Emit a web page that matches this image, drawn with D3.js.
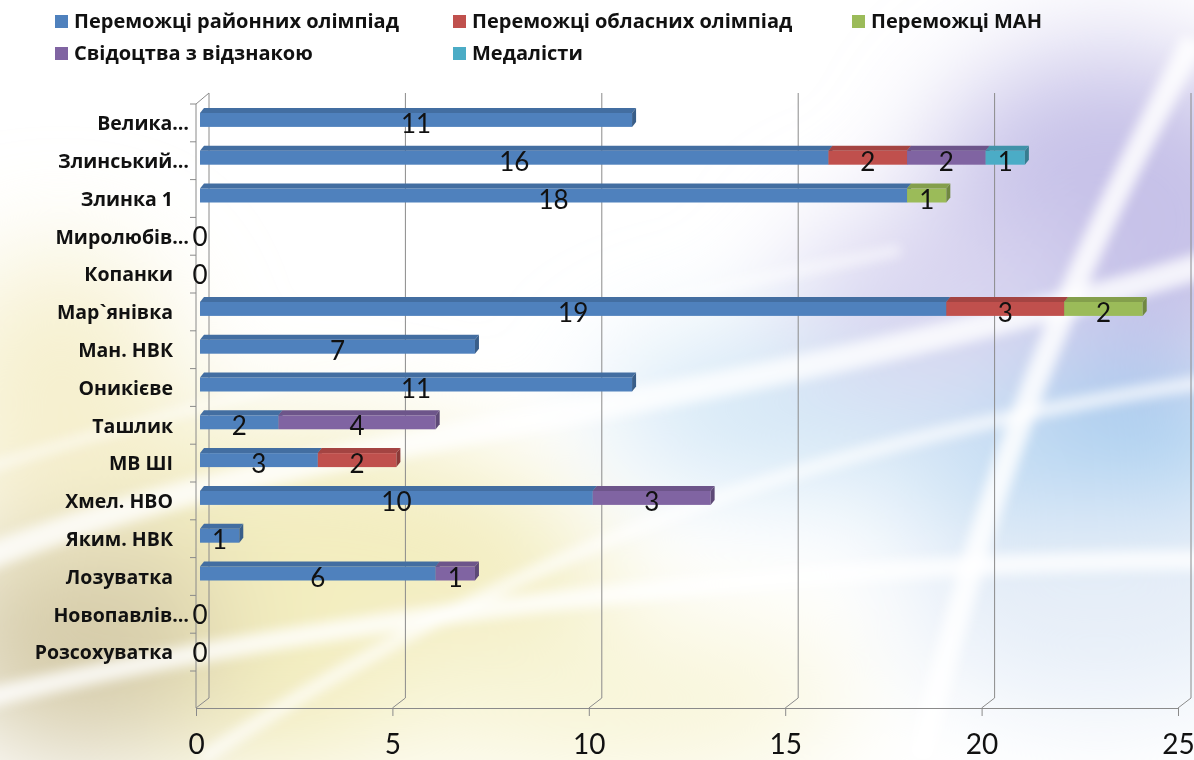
<!DOCTYPE html>
<html>
<head>
<meta charset="utf-8">
<script src="https://cdn.jsdelivr.net/npm/d3@7"></script>
<style>
  html, body { margin: 0; padding: 0; background: #fff; }
  svg { display: block; }
</style>
</head>
<body>
<script>
// дані з діаграми
var categories = ["Велика…", "Злинський…", "Злинка 1", "Миролюбів…", "Копанки", "Мар`янівка",
                  "Ман. НВК", "Оникієве", "Ташлик", "МВ ШІ", "Хмел. НВО", "Яким. НВК",
                  "Лозуватка", "Новопавлів…", "Розсохуватка"];
var seriesNames = ["Переможці районних олімпіад", "Переможці обласних олімпіад", "Переможці МАН",
                   "Свідоцтва з відзнакою", "Медалісти"];
var district = [11, 16, 18, 0, 0, 19, 7, 11, 2, 3, 10, 1, 6, 0, 0];
var regional = [null, 2, null, null, null, 3, null, null, null, 2, null, null, null, null, null];
var man      = [null, null, 1, null, null, 2, null, null, null, null, null, null, null, null, null];
var honours  = [null, 2, null, null, null, null, null, null, 4, null, 3, null, 1, null, null];
var medals   = [null, 1, null, null, null, null, null, null, null, null, null, null, null, null, null];
var xTicks = [0, 5, 10, 15, 20, 25];

var colors = ["#4F81BD", "#C0504D", "#9BBB59", "#8064A2", "#4BACC6"];

var W = 1194, H = 760;
var svg = d3.select("body").append("svg").attr("width", W).attr("height", H);
var defs = svg.append("defs");

// ---- фон (розмиті плями та білі смуги) ----
defs.append("filter").attr("id", "blurBig").attr("x", "-50%").attr("y", "-50%")
    .attr("width", "200%").attr("height", "200%")
    .append("feGaussianBlur").attr("stdDeviation", 55);
defs.append("filter").attr("id", "blurSmall").attr("x", "-20%").attr("y", "-20%")
    .attr("width", "140%").attr("height", "140%")
    .append("feGaussianBlur").attr("stdDeviation", 6);

var bg = svg.append("g");
bg.append("rect").attr("width", W).attr("height", H).attr("fill", "#ffffff");
var blobs = bg.append("g").attr("filter", "url(#blurBig)");
[
  {cx: 1110, cy: 220, rx: 190, ry: 170, c: "#c6c1e8"},
  {cx: 1060, cy: 440, rx: 220, ry: 80, c: "#a6cff0"},
  {cx: 820, cy: 410, rx: 220, ry: 80, c: "#d3e7f6"},
  {cx: 940, cy: 300, rx: 150, ry: 90, c: "#d9d5f0"},
  {cx: 280, cy: 600, rx: 330, ry: 170, c: "#f3edbf"},
  {cx: 80, cy: 640, rx: 140, ry: 120, c: "#d6ccaa"},
  {cx: 60, cy: 400, rx: 120, ry: 150, c: "#f6f0cf"},
  {cx: 600, cy: 700, rx: 250, ry: 80, c: "#f8f5d8"},
  {cx: 1100, cy: 600, rx: 200, ry: 110, c: "#e6eef8"}
].forEach(function(b){
  blobs.append("ellipse").attr("cx", b.cx).attr("cy", b.cy).attr("rx", b.rx).attr("ry", b.ry).attr("fill", b.c);
});
var swoosh = bg.append("g").attr("filter", "url(#blurSmall)").attr("fill", "none").attr("stroke", "#ffffff");
swoosh.append("path").attr("d", "M-20,560 C300,430 700,420 1220,260").attr("stroke-width", 26).attr("opacity", 0.8);
swoosh.append("path").attr("d", "M-20,700 C300,620 800,560 1220,560").attr("stroke-width", 20).attr("opacity", 0.8);
swoosh.append("path").attr("d", "M200,760 C500,560 800,440 1220,380").attr("stroke-width", 14).attr("opacity", 0.7);
swoosh.append("path").attr("d", "M1194,40 C1100,220 1000,420 920,760").attr("stroke-width", 24).attr("opacity", 0.85);
swoosh.append("path").attr("d", "M-20,470 C200,400 500,330 900,250").attr("stroke-width", 10).attr("opacity", 0.6);

// ---- шкали ----
var xFront = d3.scaleLinear().domain([0, 25]).range([196, 1178]);
var xBack = d3.scaleLinear().domain([0, 25]).range([209, 1191]);
var xBar = d3.scaleLinear().domain([0, 25]).range([200, 1182]);
var y = d3.scaleBand().domain(categories).range([101, 668]);

var floorY = 708, backFloorY = 698, backTop = 93;
var gridColor = "#8a8a8a";

// ---- сітка на задній стінці ----
var grid = svg.append("g").attr("fill", "none").attr("stroke", gridColor).attr("stroke-width", 1);
grid.selectAll("path.g").data(xTicks).enter().append("path")
    .attr("d", function(d){
      return "M" + xBack(d) + "," + backTop + "V" + backFloorY + "L" + xFront(d) + "," + floorY;
    });
// передня вертикальна вісь
grid.append("path").attr("d", "M" + xBack(0) + "," + backTop + "L196,104V" + floorY);
grid.selectAll("line.t").data(d3.range(categories.length + 1)).enter().append("line")
    .attr("x1", 190).attr("x2", 196)
    .attr("y1", function(i){ return 104 + i * y.step(); })
    .attr("y2", function(i){ return 104 + i * y.step(); });

// ---- вісь X ----
var xAxis = svg.append("g").attr("transform", "translate(0," + floorY + ")")
    .call(d3.axisBottom(xFront).tickValues(xTicks).tickSizeInner(8).tickSizeOuter(0).tickPadding(18));
xAxis.select(".domain").attr("stroke", gridColor);
xAxis.selectAll(".tick line").attr("stroke", gridColor);
xAxis.selectAll(".tick text").attr("font-family", "Lato, 'Open Sans', sans-serif")
    .attr("font-size", 28).attr("fill", "#111");

// ---- вісь категорій ----
var yAxis = svg.append("g").attr("transform", "translate(173,4)")
    .call(d3.axisLeft(y).tickSize(0).tickPadding(0));
yAxis.select(".domain").remove();
yAxis.selectAll(".tick text")
    .attr("font-family", "'Open Sans', sans-serif").attr("font-weight", 700)
    .attr("font-size", 19.5).attr("fill", "#111")
    .attr("x", function(d){ return d.slice(-1) === "…" ? 16 : 0; });

// ---- стовпчики ----
var rows = categories.map(function(c, i){
  return {cat: c, s0: district[i], s1: regional[i] || 0, s2: man[i] || 0, s3: honours[i] || 0, s4: medals[i] || 0};
});
var raw = [district, regional, man, honours, medals];
var stack = d3.stack().keys(["s0", "s1", "s2", "s3", "s4"]);
var stacked = stack(rows);

var dx = 4, dy = 5, fh = 14;
var bars = svg.append("g");
var segs = [];
categories.forEach(function(c, i){
  stacked.forEach(function(layer, k){
    var d = layer[i];
    if (d[1] - d[0] > 0) segs.push({cat: c, k: k, v0: d[0], v1: d[1], val: raw[k][i]});
  });
});

function shade(col, f){ return d3.color(col).darker(f).formatHex(); }

segs.forEach(function(s){
  var x0 = xBar(s.v0), x1 = xBar(s.v1);
  var yc = y(s.cat) + y.bandwidth() / 2;
  var yt = yc - fh / 2, yb = yc + fh / 2;
  var col = colors[s.k];
  var g = bars.append("g");
  g.append("rect").attr("x", x0).attr("y", yt).attr("width", x1 - x0).attr("height", fh).attr("fill", col);
  g.append("path").attr("fill", shade(col, 0.45))
      .attr("d", "M" + x0 + "," + yt + "L" + x1 + "," + yt + "L" + (x1 + dx) + "," + (yt - dy) + "L" + (x0 + dx) + "," + (yt - dy) + "Z");
  g.append("path").attr("fill", shade(col, 0.9))
      .attr("d", "M" + x1 + "," + yt + "L" + (x1 + dx) + "," + (yt - dy) + "L" + (x1 + dx) + "," + (yb - dy) + "L" + x1 + "," + yb + "Z");
});

// ---- підписи значень ----
var labels = [];
segs.forEach(function(s){ labels.push({cat: s.cat, x: (s.v0 + s.v1) / 2, val: s.val}); });
categories.forEach(function(c, i){ if (district[i] === 0) labels.push({cat: c, x: 0, val: 0}); });

svg.append("g").selectAll("text").data(labels).enter().append("text")
    .attr("x", function(d){ return xBar(d.x); })
    .attr("y", function(d){ return y(d.cat) + y.bandwidth() / 2 + 4; })
    .attr("dy", "0.35em")
    .attr("text-anchor", "middle")
    .attr("font-family", "Lato, 'Open Sans', sans-serif")
    .attr("font-size", 26).attr("fill", "#111")
    .text(function(d){ return d.val; });

// ---- легенда ----
var legendPos = [[55, 21], [453, 21], [852, 21], [55, 53], [453, 53]];
var legend = svg.append("g").selectAll("g").data(seriesNames).enter().append("g")
    .attr("transform", function(d, i){ return "translate(" + legendPos[i][0] + "," + legendPos[i][1] + ")"; });
legend.append("rect").attr("x", 0).attr("y", -6).attr("width", 13).attr("height", 13)
    .attr("fill", function(d, i){ return colors[i]; });
legend.append("text").attr("x", 19).attr("dy", "0.35em")
    .attr("font-family", "'Open Sans', sans-serif").attr("font-weight", 700)
    .attr("font-size", 20).attr("fill", "#111")
    .text(function(d){ return d; });
</script>
</body>
</html>
